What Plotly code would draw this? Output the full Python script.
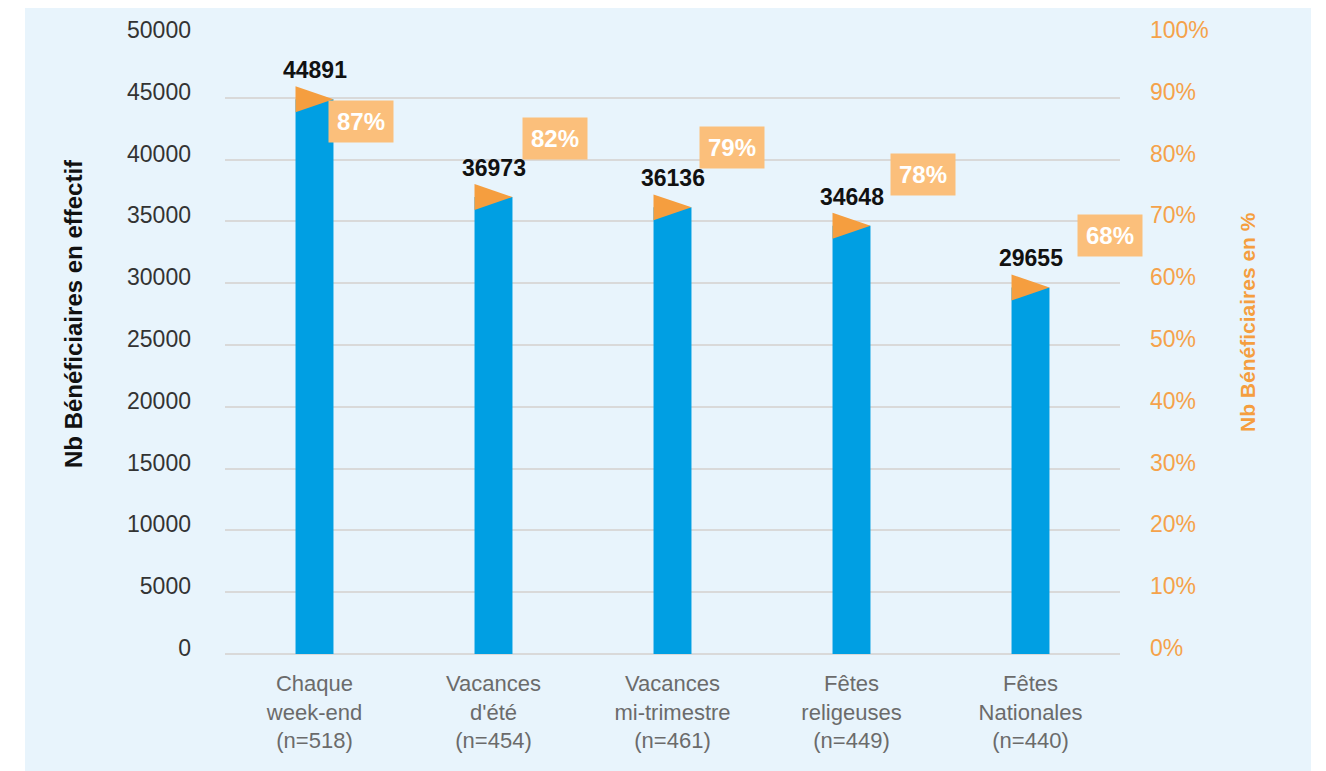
import plotly.graph_objects as go

categories = ["Chaque<br>week-end<br>(n=518)", "Vacances<br>d'été<br>(n=454)",
              "Vacances<br>mi-trimestre<br>(n=461)", "Fêtes<br>religeuses<br>(n=449)",
              "Fêtes<br>Nationales<br>(n=440)"]
beneficiaires = [44891, 36973, 36136, 34648, 29655]
pourcentages = [87, 82, 79, 78, 68]
left_ticks = list(range(0, 50001, 5000))
right_ticks = list(range(0, 101, 10))
right_tick_labels = ["%d%%" % v for v in right_ticks]

# style / layout
BLUE = "#009fe3"
ORANGE = "#f59e3f"
BOX = "#fbbf7b"
PANEL = "#e8f4fc"
GRID = "#d9d9d9"
FONT = "Liberation Sans, Arial, sans-serif"
bar_w = 0.212
tri_half = 1050
pct_dx = [46, 61, 59, 71, 79]
pct_dy = [-5, 9, 18, -3, -2]

W, H = 1326, 771
L, R, T, B = 225, 206, 36, 117
pw, ph = W - L - R, H - T - B

idx = list(range(len(categories)))

fig = go.Figure()
fig.add_trace(go.Bar(x=idx, y=beneficiaires, width=bar_w,
                     marker=dict(color=BLUE, line=dict(width=0)), showlegend=False,
                     hoverinfo="y"))
for i, v in zip(idx, beneficiaires):
    fig.add_trace(go.Scatter(
        x=[i - bar_w / 2, i + bar_w / 2, i - bar_w / 2, i - bar_w / 2],
        y=[v + tri_half, v, v - tri_half, v + tri_half],
        mode="lines", fill="toself", fillcolor=ORANGE,
        line=dict(width=0, color=ORANGE), showlegend=False, hoverinfo="skip"))
fig.add_trace(go.Scatter(x=idx, y=pourcentages, yaxis="y2", mode="markers",
                         marker=dict(opacity=0), showlegend=False, hoverinfo="skip"))

ann = []
for i, v in zip(idx, beneficiaires):
    ann.append(dict(x=i, y=v, xref="x", yref="y", text="<b>%d</b>" % v, showarrow=False,
                    yshift=29, font=dict(family=FONT, size=23, color="#111111")))
for i, p in enumerate(pourcentages):
    ann.append(dict(x=i, y=p, xref="x", yref="y2", text="<b>%d%%</b>" % p, showarrow=False,
                    xshift=pct_dx[i], yshift=pct_dy[i], bgcolor=BOX, width=64, height=41,
                    borderpad=0, font=dict(family=FONT, size=24, color="white")))
ann.append(dict(xref="paper", yref="paper", x=(73 - L) / pw, y=(H - B - 314) / ph,
                xanchor="center", yanchor="middle",
                text="<b>Nb Bénéficiaires en effectif</b>", textangle=-90, showarrow=False,
                font=dict(family=FONT, size=24, color="#111111")))
ann.append(dict(xref="paper", yref="paper", x=(1247 - L) / pw, y=(H - B - 322) / ph,
                xanchor="center", yanchor="middle",
                text="<b>Nb Bénéficiaires en %</b>", textangle=-90, showarrow=False,
                font=dict(family=FONT, size=21, color=ORANGE)))

fig.update_layout(
    width=W, height=H, margin=dict(l=L, r=R, t=T, b=B, pad=0),
    paper_bgcolor="white", plot_bgcolor=PANEL,
    font=dict(family=FONT),
    shapes=[dict(type="rect", xref="paper", yref="paper", layer="below",
                 x0=(25 - L) / pw, x1=(1311 - L) / pw, y0=(H - B - 771) / ph, y1=(H - B - 8) / ph,
                 fillcolor=PANEL, line=dict(width=0))],
    xaxis=dict(range=[-0.5, 4.5], tickvals=idx, ticktext=categories, showgrid=False,
               zeroline=False, showline=False, ticks="", ticklabelstandoff=14,
               tickfont=dict(family=FONT, size=22, color="#6b6b6b")),
    yaxis=dict(range=[0, 50000], tickvals=left_ticks, tickformat="d", showgrid=True,
               gridcolor=GRID, gridwidth=2, zeroline=True, zerolinecolor=GRID, zerolinewidth=2,
               ticks="", ticklabelstandoff=33, ticklabelshift=-6, showline=False,
               tickfont=dict(family=FONT, size=23, color="#333333")),
    yaxis2=dict(range=[0, 100], tickvals=right_ticks, ticktext=right_tick_labels,
                overlaying="y", side="right", showgrid=False, zeroline=False, ticks="",
                ticklabelstandoff=29, ticklabelshift=-6,
                tickfont=dict(family=FONT, size=23, color="#f5a24a")),
    annotations=ann,
)

fig.write_html("out.html", config={"displayModeBar": False},
               post_script="document.body.style.margin='0';document.body.style.overflow='hidden';")
